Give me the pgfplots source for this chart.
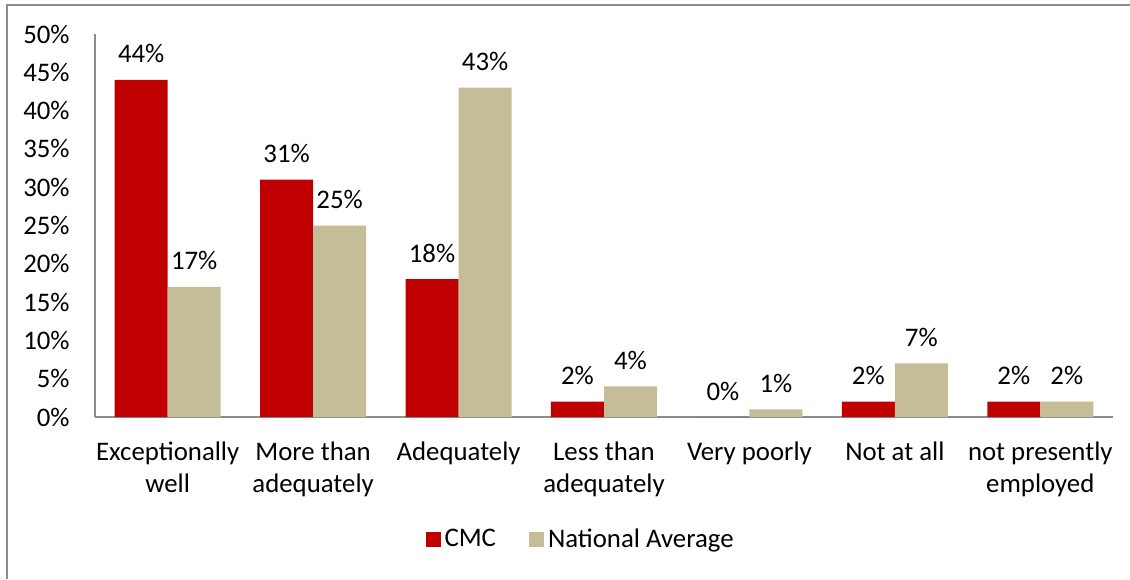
\documentclass[border=0pt]{standalone}
\usepackage{pgfplots}
\pgfplotsset{compat=1.18}
\usepackage{fontspec}
\setmainfont{Carlito}
\definecolor{cmcred}{HTML}{C00000}
\definecolor{tan}{HTML}{C4BD97}
\definecolor{axisgray}{HTML}{8C8C8C}
\newcommand{\chartfont}{\fontsize{13.4pt}{16pt}\selectfont}
\begin{document}
\chartfont
\begin{tikzpicture}
  \useasboundingbox (0,0) rectangle (565pt,289.5pt);
  % chart frame (only top and left edges show in the crop)
  \draw[axisgray, line width=1pt] (3.5pt,0pt) -- (3.5pt,287pt) -- (565pt,287pt);
  \begin{axis}[
      at={(47.5pt,81pt)}, anchor=south west,
      scale only axis,
      width=509pt, height=191.5pt,
      ybar, bar width=0.3645,
      xmin=-0.5, xmax=6.5,
      ymin=0, ymax=50,
      ytick={0,5,...,50},
      xtick={0,...,6},
      xticklabels={Exceptionally\\well, More than\\adequately, Adequately,
        Less than\\adequately, Very poorly, Not at all, not presently\\employed},
      axis x line*=bottom, axis y line*=left,
      axis line style={axisgray, line width=0.8pt},
      major tick length=0pt,
      /pgf/number format/assume math mode=true,
      yticklabel={\pgfmathprintnumber{\tick}\%},
      yticklabel style={anchor=east, inner sep=0pt, xshift=-12.5pt, font=\chartfont},
      xticklabel style={anchor=north, align=center, inner sep=0pt, yshift=-12pt,
        font=\chartfont},
      nodes near coords={\pgfmathprintnumber{\pgfplotspointmeta}\%},
      every node near coord/.append style={anchor=base, inner sep=0pt, yshift=8.5pt,
        font=\chartfont},
      legend columns=2,
      legend style={at={(0.478,-0.321)}, anchor=center, draw=none, font=\chartfont,
        /tikz/every even column/.append style={column sep=14.5pt}},
      legend image code/.code={\fill[#1] (0pt,-3.75pt) rectangle (7.5pt,3.75pt);},
    ]
    % CMC
    \addplot[fill=cmcred, draw=none, bar shift=-0.18225]
      coordinates {(0,44) (1,31) (2,18) (3,2) (4,0) (5,2) (6,2)};
    \addlegendentry{CMC}
    % National Average
    \addplot[fill=tan, draw=none, bar shift=0.18225]
      coordinates {(0,17) (1,25) (2,43) (3,4) (4,1) (5,7) (6,2)};
    \addlegendentry{National Average}
  \end{axis}
\end{tikzpicture}
\end{document}
